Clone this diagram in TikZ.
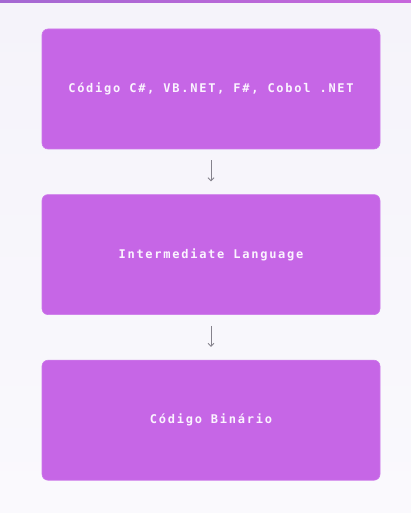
\documentclass[tikz,border=0pt]{standalone}
\usepackage{fontspec}
\newfontfamily\codefont[LetterSpace=14.5]{DejaVu Sans Mono}
\usepackage{xcolor}
\usetikzlibrary{arrows.meta, positioning}
\definecolor{pagebg}{HTML}{F5F3FA}
\definecolor{pagebgb}{HTML}{FAF9FD}
\definecolor{boxpurple}{HTML}{C666E6}
\definecolor{boxedge}{HTML}{CD78EA}
\definecolor{stripea}{HTML}{A468D2}
\definecolor{stripeb}{HTML}{C766DC}
\definecolor{arrowgrey}{HTML}{85828C}
\definecolor{textwhite}{HTML}{FBF4FF}

\begin{document}
\begin{tikzpicture}[
    x=1pt, y=-1pt,
    node distance=45pt,
    stage/.style={rectangle, draw=boxedge, line width=0.6pt, fill=boxpurple,
                  minimum width=338pt, minimum height=120pt,
                  align=center, text=textwhite,
                  font=\codefont\bfseries\fontsize{12}{14}\selectfont,
                  rounded corners=6pt},
    flow/.style={-{Straight Barb[length=3pt, width=6pt]}, line width=0.9pt,
                 color=arrowgrey, shorten >=13pt, shorten <=11pt},
  ]

  % background and top stripe
  \useasboundingbox (0,0) rectangle (411,513);
  \fill[top color=pagebg, bottom color=pagebgb] (0,0) rectangle (411,513);
  \fill[left color=stripea, right color=stripeb] (0,0) rectangle (411,3);

  % stages
  \node[stage] (source) at (211,89) {Código C\#, VB.NET, F\#, Cobol .NET};
  \node[stage, below=of source] (il) {Intermediate Language};
  \node[stage, below=of il] (binary) {Código Binário};

  \draw[flow] (source) -- (il);
  \draw[flow] (il) -- (binary);

\end{tikzpicture}
\end{document}
